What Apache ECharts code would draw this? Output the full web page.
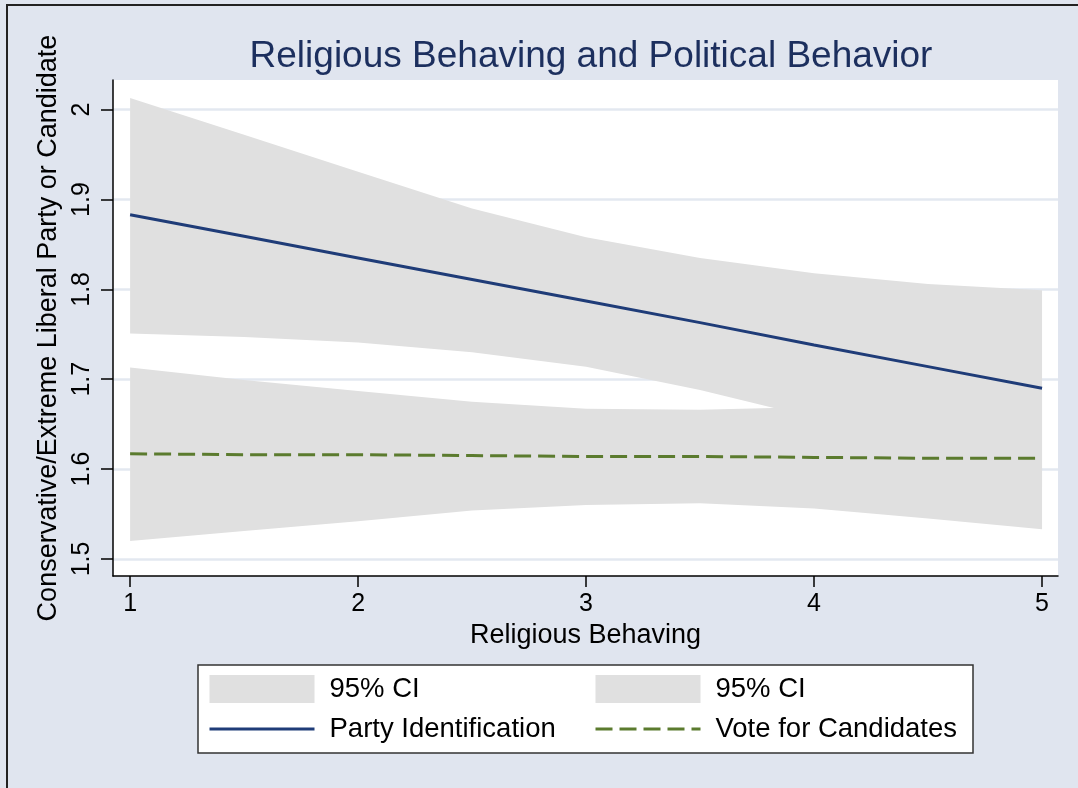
<!DOCTYPE html>
<html>
<head>
<meta charset="utf-8">
<script src="https://cdn.jsdelivr.net/npm/echarts@6/dist/echarts.min.js"></script>
<style>
  html, body { margin: 0; padding: 0; background: #e0e5ef; }
  #main { width: 1078px; height: 788px; }
</style>
</head>
<body>
<div id="main"></div>
<script>
// values
var xs = [1, 1.5, 2, 2.5, 3, 3.5, 4, 4.5, 5];
var partyFit = [1.883, 1.859, 1.835, 1.811, 1.787, 1.763, 1.738, 1.714, 1.690];
var partyLo = [1.751, 1.747, 1.741, 1.730, 1.714, 1.688, 1.657, 1.619, 1.580];
var partyHi = [2.013, 1.972, 1.931, 1.890, 1.858, 1.835, 1.818, 1.806, 1.799];
var voteFit = [1.617, 1.616, 1.616, 1.615, 1.614, 1.614, 1.613, 1.612, 1.612];
var voteLo = [1.520, 1.531, 1.542, 1.554, 1.560, 1.562, 1.556, 1.545, 1.533];
var voteHi = [1.713, 1.699, 1.687, 1.675, 1.667, 1.666, 1.669, 1.678, 1.691];
var xTicks = [1, 2, 3, 4, 5];
var yTicks = [1.5, 1.6, 1.7, 1.8, 1.9, 2];

var FONT = "'Liberation Sans', Arial, sans-serif";
var BAND = '#e0e0e0';

function pairs(ys) {
    return xs.map(function (x, i) { return [x, ys[i]]; });
}
// one polygon per band, drawn through the axes' own coord()
function bandSeries(lo, hi) {
    return {
        name: '95% CI', type: 'custom', z: 2, silent: true,
        itemStyle: { color: BAND },
        data: xs.map(function (x, i) { return [x, lo[i], hi[i]]; }),
        encode: { x: 0, y: [1, 2] },
        renderItem: function (params, api) {
            if (params.dataIndex !== 0) return;
            var pts = [], i;
            for (i = 0; i < xs.length; i++) pts.push(api.coord([xs[i], hi[i]]));
            for (i = xs.length - 1; i >= 0; i--) pts.push(api.coord([xs[i], lo[i]]));
            return { type: 'polygon', shape: { points: pts }, style: { fill: BAND } };
        }
    };
}

var legendText = { fontFamily: FONT, fontSize: 27.5, color: '#000', padding: [0, 0, 0, 10] };
var noDot = { opacity: 0 };

var chart = echarts.init(document.getElementById('main'));
var option = {
    backgroundColor: '#e0e5ef',
    animation: false,
    title: {
        text: 'Religious Behaving and Political Behavior',
        left: 586, top: 33, textAlign: 'center',
        textStyle: { color: '#1c2f5e', fontFamily: FONT, fontWeight: 'normal', fontSize: 37 }
    },
    graphic: [
        { type: 'rect', z: -10, shape: { x: 7, y: 5, width: 1100, height: 900 },
          style: { fill: 'none', stroke: '#222', lineWidth: 2 } },
        { type: 'rect', z: -10, shape: { x: 113, y: 80, width: 945, height: 496 },
          style: { fill: '#fff' } },
        { type: 'rect', z: -1, shape: { x: 198, y: 665, width: 775, height: 88 },
          style: { fill: '#fff', stroke: '#333', lineWidth: 1.5 } }
    ],
    legend: [
        {
            orient: 'vertical', left: 208, top: 675, padding: 0, itemGap: 12,
            itemWidth: 105, itemHeight: 28, selectedMode: false, textStyle: legendText,
            data: [
                { name: '95% CI', icon: 'rect' },
                { name: 'Party Identification', itemStyle: noDot, lineStyle: { width: 3 } }
            ]
        },
        {
            orient: 'vertical', left: 594, top: 675, padding: 0, itemGap: 12,
            itemWidth: 105, itemHeight: 28, selectedMode: false, textStyle: legendText,
            data: [
                { name: '95% CI', icon: 'rect' },
                { name: 'Vote for Candidates', itemStyle: noDot, lineStyle: { width: 3 } }
            ]
        }
    ],
    grid: { left: 113, right: 20, top: 80, bottom: 212 },
    xAxis: {
        type: 'value', min: 0.925, max: 5.07,
        name: 'Religious Behaving', nameLocation: 'middle', nameGap: 42,
        nameTextStyle: { fontFamily: FONT, fontSize: 27, color: '#000' },
        axisLine: { lineStyle: { color: '#000', width: 1.5 } },
        axisTick: { length: 11, customValues: xTicks, lineStyle: { color: '#000', width: 1.5 } },
        axisLabel: { customValues: xTicks, margin: 16, fontFamily: FONT, fontSize: 25, color: '#000' },
        splitLine: { show: false }
    },
    yAxis: {
        type: 'value', min: 1.481, max: 2.033,
        name: 'Conservative/Extreme Liberal Party or Candidate', nameLocation: 'middle', nameGap: 48,
        nameRotate: 90,
        nameTextStyle: { fontFamily: FONT, fontSize: 27, color: '#000' },
        axisLine: { show: true, lineStyle: { color: '#000', width: 1.5 } },
        axisTick: { show: true, length: 12, customValues: yTicks, lineStyle: { color: '#000', width: 1.5 } },
        axisLabel: {
            customValues: yTicks, rotate: 90, margin: 18, fontFamily: FONT, fontSize: 25, color: '#000',
            formatter: function (v) { return String(+v.toFixed(1)); }
        },
        splitLine: { show: true, lineStyle: { color: '#e3e8f0', width: 2.5 } }
    },
    series: [
        bandSeries(partyLo, partyHi),
        bandSeries(voteLo, voteHi),
        {
            name: 'Party Identification', type: 'line', data: pairs(partyFit), symbol: 'none',
            color: '#1f3c78', lineStyle: { color: '#1f3c78', width: 3 }, z: 5
        },
        {
            name: 'Vote for Candidates', type: 'line', data: pairs(voteFit), symbol: 'none',
            color: '#5b7b2e', lineStyle: { color: '#5b7b2e', width: 3, type: [17, 7] }, z: 5
        }
    ]
};
chart.setOption(option);
</script>
</body>
</html>
